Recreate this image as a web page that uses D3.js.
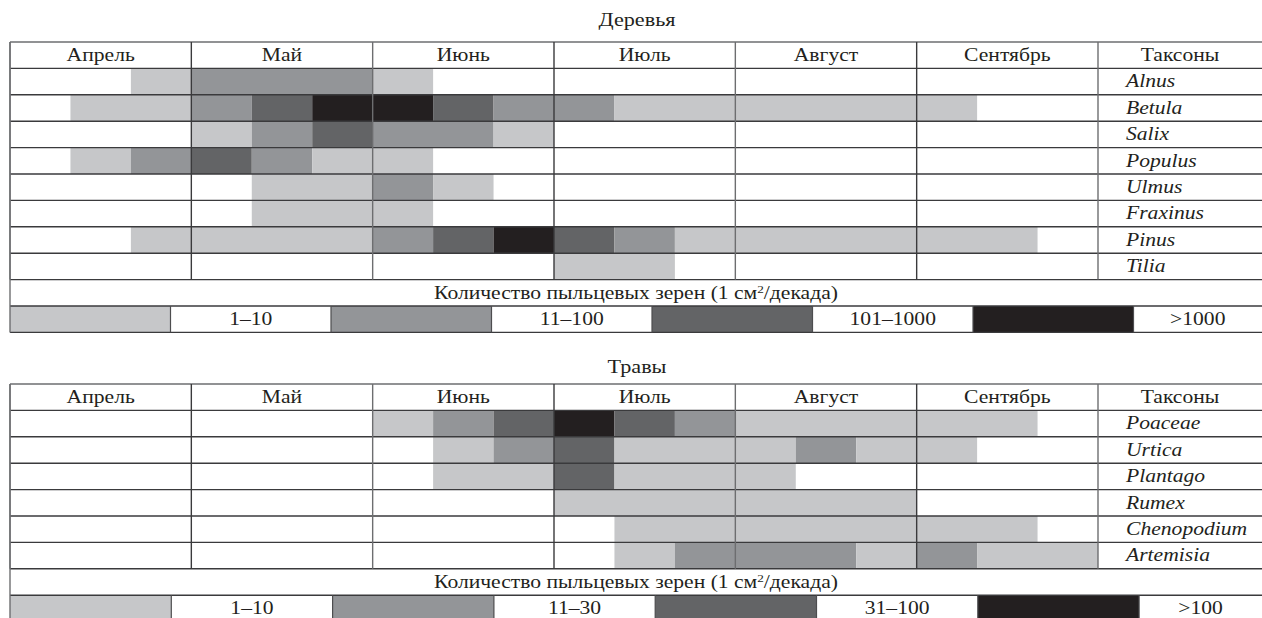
<!DOCTYPE html>
<html>
<head>
<meta charset="utf-8">
<script src="https://cdn.jsdelivr.net/npm/d3@7"></script>
<style>
  body { margin: 0; background: #fff; }
  text { font-family: "Liberation Serif", "DejaVu Serif", serif; fill: #231f20; }
</style>
</head>
<body>
<div id="chart"></div>
<script>
//months, each one split in 3 decades
const months = ["Апрель", "Май", "Июнь", "Июль", "Август", "Сентябрь"];

//0 - none, 1..4 - pollen class
const levelColors = ["#ffffff", "#c6c7c9", "#939598", "#636466", "#231f20"];

//trees
const treeTaxa = ["Alnus", "Betula", "Salix", "Populus", "Ulmus", "Fraxinus", "Pinus", "Tilia"];
const treeLevels = [
  [0,0,1, 2,2,2, 1,0,0, 0,0,0, 0,0,0, 0,0,0],
  [0,1,1, 2,3,4, 4,3,2, 2,1,1, 1,1,1, 1,0,0],
  [0,0,0, 1,2,3, 2,2,1, 0,0,0, 0,0,0, 0,0,0],
  [0,1,2, 3,2,1, 1,0,0, 0,0,0, 0,0,0, 0,0,0],
  [0,0,0, 0,1,1, 2,1,0, 0,0,0, 0,0,0, 0,0,0],
  [0,0,0, 0,1,1, 1,0,0, 0,0,0, 0,0,0, 0,0,0],
  [0,0,1, 1,1,1, 2,3,4, 3,2,1, 1,1,1, 1,1,0],
  [0,0,0, 0,0,0, 0,0,0, 1,1,0, 0,0,0, 0,0,0]
];
const treeLegend = ["1–10", "11–100", "101–1000", ">1000"];

//herbs
const herbTaxa = ["Poaceae", "Urtica", "Plantago", "Rumex", "Chenopodium", "Artemisia"];
const herbLevels = [
  [0,0,0, 0,0,0, 1,2,3, 4,3,2, 1,1,1, 1,1,0],
  [0,0,0, 0,0,0, 0,1,2, 3,1,1, 1,2,1, 1,0,0],
  [0,0,0, 0,0,0, 0,1,1, 3,1,1, 1,0,0, 0,0,0],
  [0,0,0, 0,0,0, 0,0,0, 1,1,1, 1,1,1, 0,0,0],
  [0,0,0, 0,0,0, 0,0,0, 0,1,1, 1,1,1, 1,1,0],
  [0,0,0, 0,0,0, 0,0,0, 0,1,2, 2,2,1, 2,1,1]
];
const herbLegend = ["1–10", "11–30", "31–100", ">100"];

const captionText = "Количество пыльцевых зерен (1 см";
const captionTail = "/декада)";

const W = 1262, H = 618;
const left = 10, taxaX = 1098, rowH = 26.4;
const fontSize = 18;
//printed font is wider than Liberation Serif
const stretch = 1.2;

const svg = d3.select("#chart").append("svg")
  .attr("width", W).attr("height", H);

//decade scale, 18 decades April..September
const x = d3.scaleLinear().domain([0, months.length * 3]).range([left, taxaX]);

//place text with horizontal stretch
function place(sel, fx, fy){
  sel.attr("transform", (d, i) => "translate(" + fx(d, i) + "," + fy(d, i) + ") scale(" + stretch + ",1)");
}

//join consecutive decades with the same level into one bar
function runs(levels){
  const out = [];
  levels.forEach((row, i) => {
    let j = 0;
    while (j < row.length) {
      const v = row[j];
      let k = j;
      while (k + 1 < row.length && row[k + 1] === v) k++;
      if (v > 0) out.push({i, j0: j, j1: k + 1, v});
      j = k + 1;
    }
  });
  return out;
}

function drawTable(top, title, titleY, taxa, levels, legend, legendW){

  const nRows = taxa.length + 3;
  const y = d3.scaleBand().domain(d3.range(nRows)).range([top, top + rowH * nRows]);
  const g = svg.append("g");

  g.append("text")
    .datum(title)
    .attr("text-anchor", "middle")
    .style("font-size", (fontSize + 0.5) + "px")
    .call(place, () => W / 2 + 6, () => titleY)
    .text(title);

  //cells
  g.selectAll("rect.cell").data(runs(levels)).join("rect")
    .attr("class", "cell")
    .attr("x", d => x(d.j0))
    .attr("y", d => y(d.i + 1))
    .attr("width", d => x(d.j1) - x(d.j0))
    .attr("height", y.bandwidth())
    .attr("fill", d => levelColors[d.v]);

  //legend swatches + labels
  const legendRow = nRows - 1;
  const legendCells = [];
  legend.forEach((lab, k) => {
    legendCells.push({k: 2 * k, level: k + 1});
    legendCells.push({k: 2 * k + 1, label: lab});
  });
  const lx0 = k => left + k * legendW;
  const lx1 = k => Math.min(left + (k + 1) * legendW, W);

  g.selectAll("rect.sw").data(legendCells.filter(d => d.level)).join("rect")
    .attr("class", "sw")
    .attr("x", d => lx0(d.k))
    .attr("y", y(legendRow))
    .attr("width", d => lx1(d.k) - lx0(d.k))
    .attr("height", y.bandwidth())
    .attr("fill", d => levelColors[d.level]);

  g.selectAll("text.lab").data(legendCells.filter(d => d.label)).join("text")
    .attr("class", "lab")
    .attr("text-anchor", "middle")
    .style("font-size", fontSize + "px")
    .call(place, d => (lx0(d.k) + lx1(d.k)) / 2, () => y(legendRow) + 19)
    .text(d => d.label);

  //grid lines
  const hLines = d3.range(nRows + 1).map(r => top + r * rowH);
  g.selectAll("line.h").data(hLines).join("line")
    .attr("class", "h")
    .attr("x1", left).attr("x2", W)
    .attr("y1", d => d).attr("y2", d => d)
    .attr("stroke", (d, i) => i === 0 ? "#6d6e70" : "#3a3a3c")
    .attr("stroke-width", 1.4);

  const vLines = d3.range(months.length + 1).map(m => x(m * 3));
  g.selectAll("line.v").data(vLines).join("line")
    .attr("class", "v")
    .attr("x1", d => d).attr("x2", d => d)
    .attr("y1", top).attr("y2", y(nRows - 2))
    .attr("stroke", (d, i) => i % 2 ? "#3a3a3c" : "#6d6e70")
    .attr("stroke-width", 1.4);

  g.selectAll("line.lv").data(d3.range(1, 8)).join("line")
    .attr("class", "lv")
    .attr("x1", k => lx0(k)).attr("x2", k => lx0(k))
    .attr("y1", y(legendRow)).attr("y2", y(legendRow) + rowH)
    .attr("stroke", "#4d4d4f")
    .attr("stroke-width", 1.2);

  g.append("line")
    .attr("x1", left).attr("x2", left)
    .attr("y1", top).attr("y2", top + rowH * nRows)
    .attr("stroke", "#6d6e70").attr("stroke-width", 1.4);

  //header
  g.selectAll("text.month").data(months).join("text")
    .attr("class", "month")
    .attr("text-anchor", "middle")
    .style("font-size", fontSize + "px")
    .call(place, (d, i) => (x(i * 3) + x(i * 3 + 3)) / 2, () => top + 19)
    .text(d => d);

  g.append("text")
    .datum("Таксоны")
    .attr("text-anchor", "middle")
    .style("font-size", fontSize + "px")
    .call(place, () => (taxaX + W) / 2, () => top + 19)
    .text(d => d);

  g.selectAll("text.taxon").data(taxa).join("text")
    .attr("class", "taxon")
    .style("font-size", fontSize + "px")
    .style("font-style", "italic")
    .call(place, () => taxaX + 28, (d, i) => y(i + 1) + 19)
    .text(d => d);

  //caption
  const cap = g.append("text")
    .datum(captionText)
    .attr("text-anchor", "middle")
    .style("font-size", fontSize + "px")
    .call(place, () => W / 2 + 5, () => y(nRows - 2) + 19);
  cap.append("tspan").text(captionText);
  cap.append("tspan").attr("dy", -6).style("font-size", "11px").text("2");
  cap.append("tspan").attr("dy", 6).text(captionTail);
}

drawTable(42, "Деревья", 26, treeTaxa, treeLevels, treeLegend, 160.5);
drawTable(384, "Травы", 373, herbTaxa, herbLevels, herbLegend, 161.3);
</script>
</body>
</html>
